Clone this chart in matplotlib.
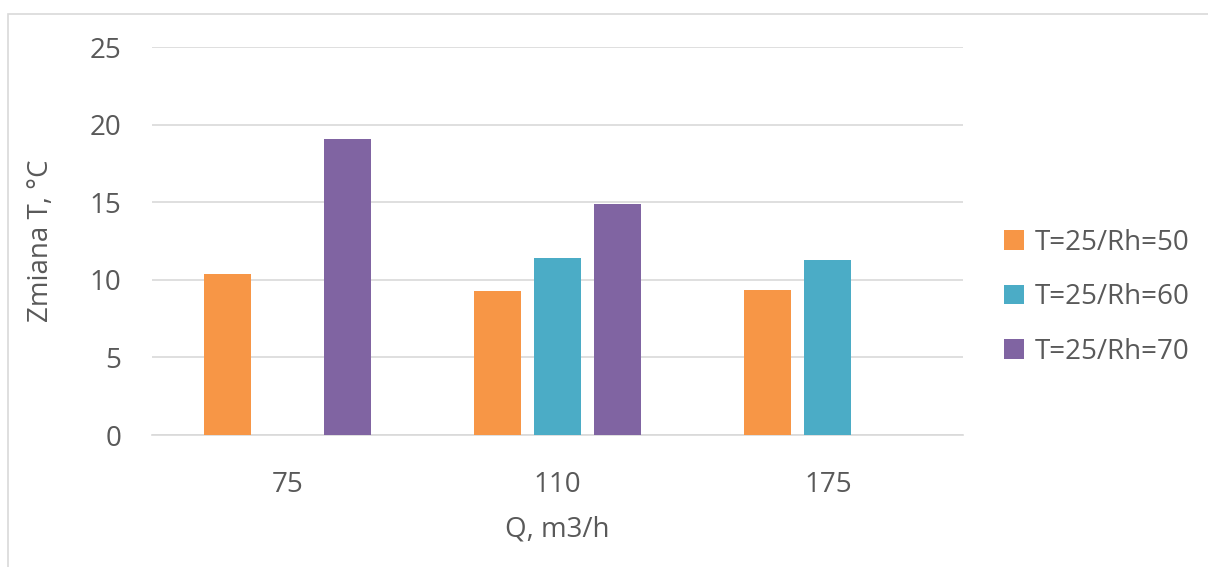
import matplotlib.pyplot as plt
import numpy as np
from matplotlib.patches import Rectangle

categories = ['75', '110', '175']
series = ['T=25/Rh=50', 'T=25/Rh=60', 'T=25/Rh=70']
rh50 = [10.4, 9.3, 9.35]
rh60 = [np.nan, 11.4, 11.3]
rh70 = [19.1, 14.9, np.nan]
colors = ['#F79646', '#4BACC6', '#8064A2']

plt.rcParams['font.family'] = ['Open Sans', 'DejaVu Sans']
text_color = '#595959'

fig = plt.figure(figsize=(12.08, 5.67), dpi=100)
ax = fig.add_axes([0.1258, 0.2328, 0.6714, 0.6843])

x = np.arange(len(categories))
width = 0.174
step = 0.222
for i, (vals, name) in enumerate(zip([rh50, rh60, rh70], series)):
    ax.bar(x + (i - 1) * step, vals, width, color=colors[i], label=name, zorder=3)

ax.set_xlim(-0.5, 2.5)
ax.set_ylim(0, 25)
ax.set_yticks([0, 5, 10, 15, 20, 25])
ax.set_xticks(x)
ax.set_xticklabels(categories)
ax.grid(axis='y', color='#d9d9d9', linewidth=1.2, zorder=0)
for s in ['top', 'right', 'left']:
    ax.spines[s].set_visible(False)
ax.spines['bottom'].set_color('#d9d9d9')
ax.spines['bottom'].set_linewidth(1.2)
ax.tick_params(length=0, labelsize=20, colors=text_color)
ax.tick_params(axis='x', pad=26)
ax.tick_params(axis='y', pad=22)

ax.set_xlabel('Q, m3/h', fontsize=20, color=text_color, labelpad=12)
ax.set_ylabel('Zmiana T, °C', fontsize=20, color=text_color, labelpad=25)

ax.legend(loc='center left', bbox_to_anchor=(1.02, 0.355), frameon=False,
          fontsize=20, labelcolor=text_color, handlelength=0.7, handleheight=0.7,
          handletextpad=0.4, labelspacing=0.95)

# chart frame
fig.patches.append(Rectangle((8 / 1208, -0.1), 1.2, (567 - 14) / 567 + 0.1,
                             transform=fig.transFigure, fill=False,
                             edgecolor='#d9d9d9', linewidth=1.2))

fig.savefig('out.png', dpi=100)
